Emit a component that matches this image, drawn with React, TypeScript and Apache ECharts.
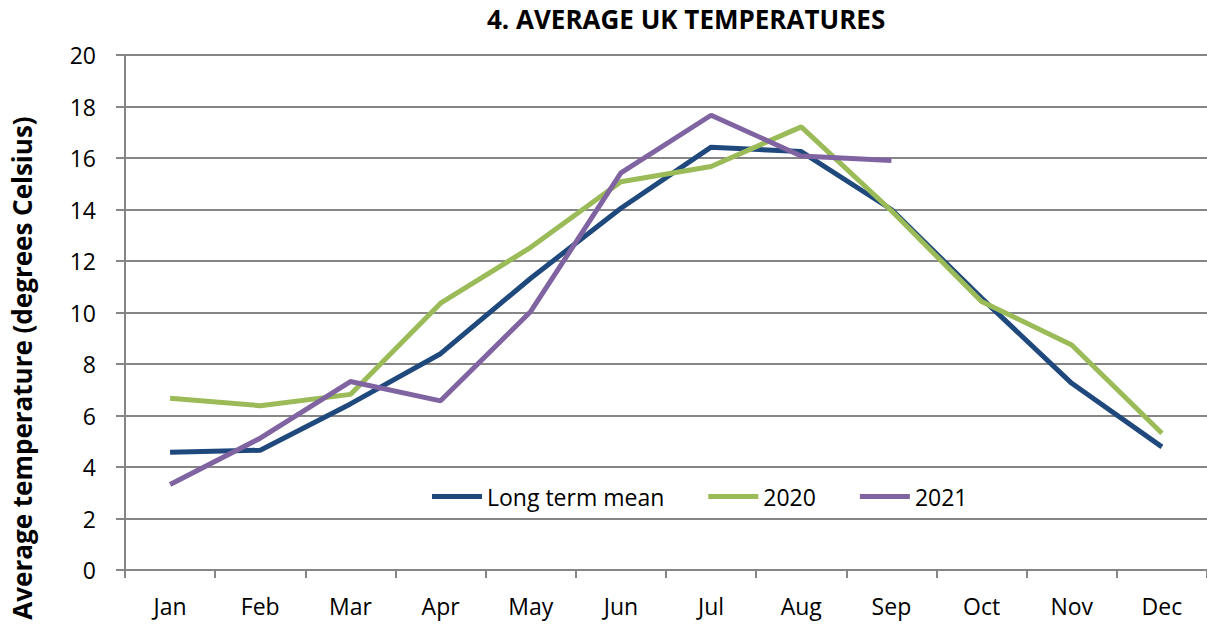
import React, { useEffect, useRef } from "react";
import * as echarts from "echarts";

const months = ["Jan", "Feb", "Mar", "Apr", "May", "Jun", "Jul", "Aug", "Sep", "Oct", "Nov", "Dec"];
const longTermMean = [4.57, 4.65, 6.45, 8.4, 11.33, 14.05, 16.42, 16.25, 14.0, 10.56, 7.25, 4.78];
const y2020 = [6.67, 6.38, 6.82, 10.36, 12.53, 15.08, 15.67, 17.21, 13.95, 10.43, 8.74, 5.31];
const y2021 = [3.32, 5.12, 7.32, 6.57, 10.04, 15.42, 17.66, 16.08, 15.9];
const yTicks = { min: 0, max: 20, interval: 2 };

const FONT = "Open Sans";

export default function App() {
  const ref = useRef<HTMLDivElement>(null);
  useEffect(() => {
    if (!ref.current) return;
    const chart = echarts.init(ref.current, undefined, { renderer: "svg" });
    chart.setOption({
      animation: false,
      backgroundColor: "#ffffff",
      title: {
        text: "4. AVERAGE UK TEMPERATURES",
        left: 482,
        top: 1,
        textStyle: { fontFamily: FONT, fontWeight: "bold", fontSize: 26, color: "#000" },
      },
      legend: {
        left: 427,
        top: 480,
        icon: "rect",
        itemWidth: 50,
        itemHeight: 5,
        itemGap: 44,
        textStyle: { fontFamily: FONT, fontSize: 23, color: "#000" },
        data: ["Long term mean", "2020", "2021"],
      },
      grid: { left: 125, right: -3, top: 55, bottom: 54, containLabel: false },
      xAxis: {
        type: "category",
        data: months,
        boundaryGap: true,
        axisLine: { lineStyle: { color: "#868686", width: 2 } },
        axisTick: { show: true, inside: false, length: 8, alignWithLabel: false, lineStyle: { color: "#868686", width: 2 } },
        axisLabel: { margin: 24, fontFamily: FONT, fontSize: 23, color: "#000" },
        splitLine: { show: false },
      },
      yAxis: {
        type: "value",
        min: yTicks.min,
        max: yTicks.max,
        interval: yTicks.interval,
        axisLine: { show: true, lineStyle: { color: "#868686", width: 2 } },
        axisTick: { show: true, length: 9, lineStyle: { color: "#868686", width: 2 } },
        axisLabel: { margin: 29, fontFamily: FONT, fontSize: 23, color: "#000" },
        splitLine: { show: true, lineStyle: { color: "#868686", width: 2 } },
      },
      graphic: [
        {
          type: "text",
          x: 22,
          y: 368,
          rotation: Math.PI / 2,
          style: {
            text: "Average temperature (degrees Celsius)",
            fontFamily: FONT,
            fontWeight: "bold",
            fontSize: 26,
            fill: "#000",
            textAlign: "center",
            textVerticalAlign: "middle",
          },
        },
      ],
      series: [
        {
          name: "Long term mean",
          type: "line",
          data: longTermMean,
          symbol: "none",
          itemStyle: { color: "#1F497D" },
          lineStyle: { color: "#1F497D", width: 5 },
        },
        {
          name: "2020",
          type: "line",
          data: y2020,
          symbol: "none",
          itemStyle: { color: "#9BBB59" },
          lineStyle: { color: "#9BBB59", width: 5 },
        },
        {
          name: "2021",
          type: "line",
          data: y2021,
          symbol: "none",
          itemStyle: { color: "#8064A2" },
          lineStyle: { color: "#8064A2", width: 5 },
        },
      ],
    });
    return () => chart.dispose();
  }, []);
  return (
    <div
      ref={ref}
      style={{ position: "fixed", left: 0, top: 0, width: 1207, height: 624, background: "#fff" }}
    />
  );
}
